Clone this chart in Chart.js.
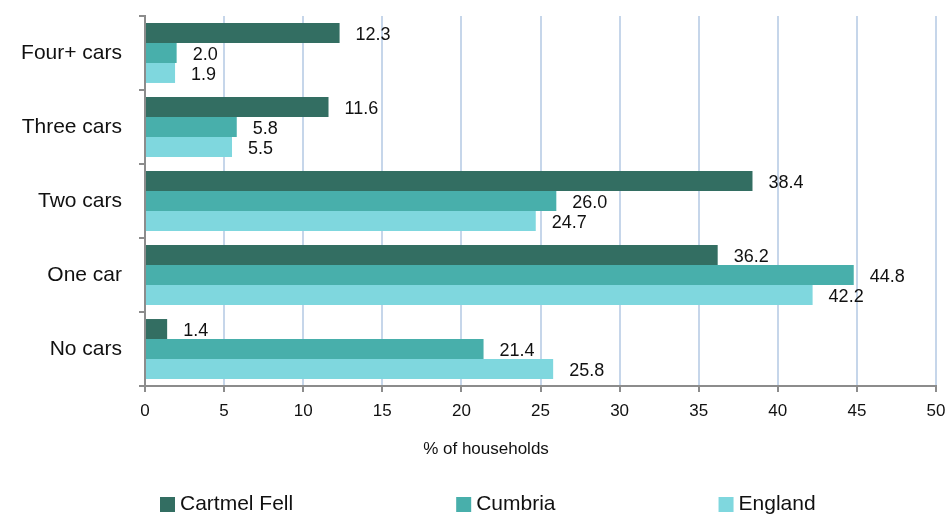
<!DOCTYPE html>
<html>
<head>
<meta charset="utf-8">
<script src="https://cdn.jsdelivr.net/npm/chart.js@4"></script>
<style>
  html, body { margin: 0; padding: 0; background: #fff; }
  canvas { display: block; }
</style>
</head>
<body>
<canvas id="cars" width="946" height="514"></canvas>
<script>
const categories = ['Four+ cars', 'Three cars', 'Two cars', 'One car', 'No cars'];
const cartmelFell = [12.3, 11.6, 38.4, 36.2, 1.4];
const cumbria = [2.0, 5.8, 26.0, 44.8, 21.4];
const england = [1.9, 5.5, 24.7, 42.2, 25.8];
const xTicks = [0, 5, 10, 15, 20, 25, 30, 35, 40, 45, 50];

const FONT = '"Liberation Sans", Arial, sans-serif';
const AXIS_GREY = '#8c8c8c';

// value labels just past the end of each bar
const barLabels = {
    id: 'barLabels',
    afterDatasetsDraw(chart) {
        const ctx = chart.ctx;
        ctx.save();
        ctx.font = '18px ' + FONT;
        ctx.fillStyle = '#111';
        ctx.textAlign = 'left';
        ctx.textBaseline = 'middle';
        chart.data.datasets.forEach((ds, i) => {
            chart.getDatasetMeta(i).data.forEach((bar, j) => {
                ctx.fillText(ds.data[j].toFixed(1), bar.x + 16, bar.y + 2);
            });
        });
        ctx.restore();
    }
};

// axis title and the spread-out legend along the bottom
const footer = {
    id: 'footer',
    afterDraw(chart) {
        const ctx = chart.ctx;
        ctx.save();
        ctx.fillStyle = '#111';
        ctx.font = '17px ' + FONT;
        ctx.textAlign = 'center';
        ctx.textBaseline = 'middle';
        ctx.fillText('% of households', 486, 449);

        ctx.font = '21px ' + FONT;
        ctx.textAlign = 'left';
        let x = 160;
        chart.data.datasets.forEach(ds => {
            ctx.fillStyle = ds.backgroundColor;
            ctx.fillRect(x, 497, 15, 15);
            ctx.fillStyle = '#111';
            ctx.fillText(ds.label, x + 20, 504);
            x += 20 + ctx.measureText(ds.label).width + 163;
        });
        ctx.restore();
    }
};

// keep the plot edges where the layout puts them
function noEdgePadding(scale) {
    scale.paddingTop = 0;
    scale.paddingBottom = 0;
    scale.paddingLeft = 0;
    scale.paddingRight = 0;
}

new Chart(document.getElementById('cars'), {
    type: 'bar',
    data: {
        labels: categories,
        datasets: [
            { label: 'Cartmel Fell', data: cartmelFell, backgroundColor: '#336e62' },
            { label: 'Cumbria', data: cumbria, backgroundColor: '#48afab' },
            { label: 'England', data: england, backgroundColor: '#7fd7de' }
        ]
    },
    options: {
        indexAxis: 'y',
        responsive: false,
        animation: false,
        categoryPercentage: 0.81,
        barPercentage: 1.0,
        layout: {
            padding: { left: 0, right: 10, top: 16, bottom: 88 }
        },
        scales: {
            x: {
                min: 0,
                max: 50,
                afterBuildTicks(scale) {
                    scale.ticks = xTicks.map(v => ({ value: v }));
                },
                afterFit(scale) {
                    scale.height = 40;
                    noEdgePadding(scale);
                },
                border: { display: true, color: AXIS_GREY, width: 2 },
                grid: {
                    color: '#c6d6ea',
                    lineWidth: 2,
                    tickColor: AXIS_GREY,
                    tickLength: 6
                },
                ticks: {
                    color: '#111',
                    padding: 9,
                    font: { family: FONT, size: 17 }
                }
            },
            y: {
                afterFit(scale) {
                    scale.width = 145;
                    noEdgePadding(scale);
                },
                border: { display: true, color: AXIS_GREY, width: 2 },
                grid: {
                    offset: true,
                    drawOnChartArea: false,
                    color: AXIS_GREY,
                    lineWidth: 2,
                    tickLength: 6
                },
                ticks: {
                    color: '#111',
                    padding: 17,
                    font: { family: FONT, size: 21 }
                }
            }
        },
        plugins: {
            legend: { display: false },
            tooltip: { enabled: false }
        }
    },
    plugins: [barLabels, footer]
});
</script>
</body>
</html>
